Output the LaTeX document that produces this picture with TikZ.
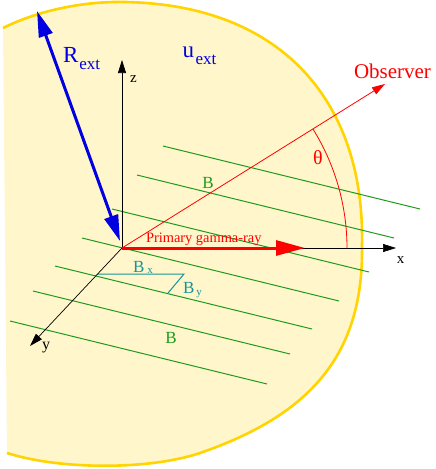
\documentclass[tikz,border=0pt]{standalone}
\usepackage{fontspec}
\setmainfont{Liberation Serif}
\usetikzlibrary{arrows.meta}
\definecolor{fillyel}{RGB}{255,246,204}
\definecolor{rimgold}{RGB}{255,212,0}
\definecolor{bgreen}{RGB}{30,155,30}
\definecolor{bteal}{RGB}{20,150,150}
\definecolor{rblue}{RGB}{0,0,225}
\newcommand{\fsz}[1]{\fontsize{#1}{#1}\selectfont}
\begin{document}
\begin{tikzpicture}[x=1pt,y=-1pt,
  fieldline/.style={bgreen, line width=1pt},
  comp/.style={bteal, line width=1pt},
  axisarrow/.style={black, line width=0.7pt, -{Triangle[length=13pt,width=8pt]}},
  lbl/.style={inner sep=0pt, outer sep=0pt}]
\useasboundingbox (0,0) rectangle (436,469);
% region
\fill[fillyel] (3,28) .. controls (35,12) and (80,1) .. (125,2)
  .. controls (285,5) and (365,105) .. (362,245)
  .. controls (364,355) and (310,415) .. (200,453)
  .. controls (150,470) and (60,470) .. (7,453) -- cycle;
\draw[rimgold, line width=2.6pt] (3,28) .. controls (35,12) and (80,1) .. (125,2)
  .. controls (285,5) and (365,105) .. (362,245)
  .. controls (364,355) and (310,415) .. (200,453)
  .. controls (150,470) and (60,470) .. (7,453);
% coordinates
\coordinate (O) at (122,248);
\coordinate (ztip) at (122,60);
\coordinate (xtip) at (396,248);
\coordinate (ytip) at (30,346);
\coordinate (obs) at (385,84);
\coordinate (gtip) at (305,248);
\coordinate (Rtop) at (37,11);
\coordinate (Rbot) at (120,241);
% field lines
\foreach \i/\sx/\sy in {1/163/146, 2/137/175, 3/112/209, 4/82/238, 5/55/266, 6/33/291, 7/10/321} {
  \coordinate (f\i a) at (\sx,\sy);
  \coordinate (f\i b) at (\sx+257,\sy+63);
  \draw[fieldline] (f\i a) -- (f\i b);
}
% components
\coordinate (bxa) at (97,274);
\coordinate (bxb) at (184,274);
\coordinate (byb) at (168,293);
\draw[comp] (bxa) -- (bxb) -- (byb);
% axes
\draw[axisarrow] (O) -- (ztip);
\draw[axisarrow] (O) -- (xtip);
\draw[axisarrow] (O) -- (ytip);
% observer
\draw[red, line width=0.8pt, -{Triangle[length=13pt,width=8pt]}] (O) -- (obs);
\draw[red, line width=0.8pt] (O) ++(0:225) arc[start angle=0, end angle=-31.9, radius=225];
% primary gamma ray
\draw[red, line width=3pt, -{Triangle[length=29pt,width=15pt]}] (O) -- (gtip);
% R ext
\draw[rblue, line width=3pt, {Triangle[length=26pt,width=14pt]}-{Triangle[length=26pt,width=14pt]}] (Rtop) -- (Rbot);
% labels
\node[lbl, anchor=base west, text=rblue, font=\fsz{23}] (Rl) at (63,62.5) {R\kern1pt\raisebox{-6.5pt}{\fsz{17}ext}};
\node[lbl, anchor=base west, text=rblue, font=\fsz{23}] (ul) at (182.5,57) {u\kern1.5pt\raisebox{-7pt}{\fsz{17}ext}};
\node[lbl, anchor=base west, text=red, font=\fsz{21}] (obsl) at (354,78) {Observer};
\node[lbl, anchor=base west, text=red, font=\fsz{14.4}] (gl) at (146,242) {Primary gamma-ray};
\node[lbl, text=red, font=\fsz{20}] (thl) at (318,158) {θ};
\node[lbl, anchor=base, font=\fsz{15}] (zl) at (133.5,82) {z};
\node[lbl, anchor=base, font=\fsz{15}] (xl) at (400.5,263) {x};
\node[lbl, anchor=base, font=\fsz{16}] (yl) at (46,349) {y};
\node[lbl, text=bgreen, font=\fsz{17}] (B1) at (208,182.5) {B};
\node[lbl, text=bgreen, font=\fsz{17}] (B2) at (171,338) {B};
\node[lbl, anchor=base west, text=bteal, font=\fsz{17}] (bxl) at (133,272) {B\kern3pt\raisebox{-1pt}{\fsz{11}x}};
\node[lbl, anchor=base west, text=bteal, font=\fsz{17}] (byl) at (183,293) {B\kern2pt\raisebox{-2pt}{\fsz{11}y}};
\end{tikzpicture}
\end{document}
